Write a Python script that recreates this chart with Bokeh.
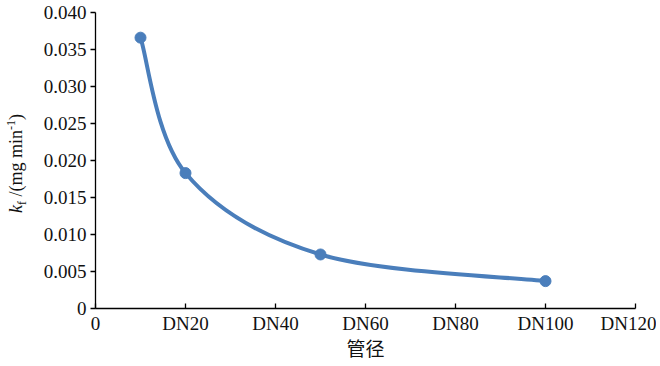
import numpy as np
from bokeh.plotting import figure
from bokeh.models import FixedTicker, Div
from bokeh.layouts import row
from bokeh.embed import file_html
from bokeh.resources import INLINE

# data
pipe_x = [10, 20, 50, 100]
kf_values = [0.0366, 0.0183, 0.0073, 0.0037]
x_ticks = [0, 20, 40, 60, 80, 100, 120]
x_tick_labels = ["0", "DN20", "DN40", "DN60", "DN80", "DN100", "DN120"]
y_ticks = [0, 0.005, 0.010, 0.015, 0.020, 0.025, 0.030, 0.035, 0.040]
y_tick_labels = ["0", "0.005", "0.010", "0.015", "0.020", "0.025", "0.030", "0.035", "0.040"]

BLUE = "#4A7EBB"
FONT = "Liberation Serif"
H = 364

p = figure(width=626, height=H, x_range=(0, 120), y_range=(0, 0.04),
           output_backend="svg", toolbar_location=None,
           min_border_left=65, min_border_right=21, min_border_top=12, min_border_bottom=56)
p.outline_line_color = None
p.xgrid.visible = False
p.ygrid.visible = False

# smoothed line (Catmull-Rom style Bezier segments, like a spreadsheet smoothed line)
X = np.array(pipe_x, dtype=float)
Y = np.array(kf_values, dtype=float)
n = len(X)
x0, y0, x1, y1, cx0, cy0, cx1, cy1 = [], [], [], [], [], [], [], []
for i in range(n - 1):
    im1 = max(i - 1, 0)
    ip2 = min(i + 2, n - 1)
    x0.append(X[i]); y0.append(Y[i]); x1.append(X[i + 1]); y1.append(Y[i + 1])
    cx0.append(X[i] + (X[i + 1] - X[im1]) / 6.0)
    cy0.append(Y[i] + (Y[i + 1] - Y[im1]) / 6.0)
    cx1.append(X[i + 1] - (X[ip2] - X[i]) / 6.0)
    cy1.append(Y[i + 1] - (Y[ip2] - Y[i]) / 6.0)
p.bezier(x0=x0, y0=y0, x1=x1, y1=y1, cx0=cx0, cy0=cy0, cx1=cx1, cy1=cy1,
         line_color=BLUE, line_width=4)
p.scatter(pipe_x, kf_values, size=11, color=BLUE, line_color=BLUE)

# axes
for ax in (p.xaxis[0], p.yaxis[0]):
    ax.axis_line_color = "black"
    ax.axis_line_width = 1.3
    ax.major_tick_line_color = "black"
    ax.major_tick_line_width = 1.3
    ax.minor_tick_line_color = None
    ax.major_label_text_font = FONT
    ax.major_label_text_font_size = "19px"
    ax.major_label_text_color = "#111111"

p.xaxis.ticker = FixedTicker(ticks=x_ticks)
p.xaxis.major_label_overrides = {t: l for t, l in zip(x_ticks, x_tick_labels)}
p.xaxis.major_tick_in = 5
p.xaxis.major_tick_out = 0
p.xaxis.major_label_standoff = 4
p.xaxis.axis_label = "管径"
p.xaxis.axis_label_text_font = "Noto Sans CJK SC"
p.xaxis.axis_label_text_font_style = "normal"
p.xaxis.axis_label_text_font_size = "19px"
p.xaxis.axis_label_text_color = "#111111"
p.xaxis.axis_label_standoff = -3

p.yaxis.ticker = FixedTicker(ticks=y_ticks)
p.yaxis.major_label_overrides = {t: l for t, l in zip(y_ticks, y_tick_labels)}
p.yaxis.major_tick_in = 0
p.yaxis.major_tick_out = 5
p.yaxis.major_label_standoff = 4

# rotated y-axis title: k_f /(mg min^-1)
ylabel_html = (
    '<div style="position:relative;width:30px;height:%dpx;">'
    '<div style="position:absolute;left:6px;top:213px;transform:rotate(-90deg);'
    'transform-origin:0 0;white-space:nowrap;font-family:\'Liberation Serif\';'
    'font-size:18px;line-height:20px;color:#111111;">'
    '<i>k</i><span style="font-size:12px;position:relative;top:4px;">f</span>'
    ' /(mg min<span style="font-size:12px;position:relative;top:-7px;">-1</span>)'
    '</div></div>' % H
)
ylabel = Div(text=ylabel_html, width=30, height=H, margin=(0, 0, 0, 0))

layout = row(ylabel, p, spacing=0)
open("out.html", "w").write(file_html(layout, INLINE))
